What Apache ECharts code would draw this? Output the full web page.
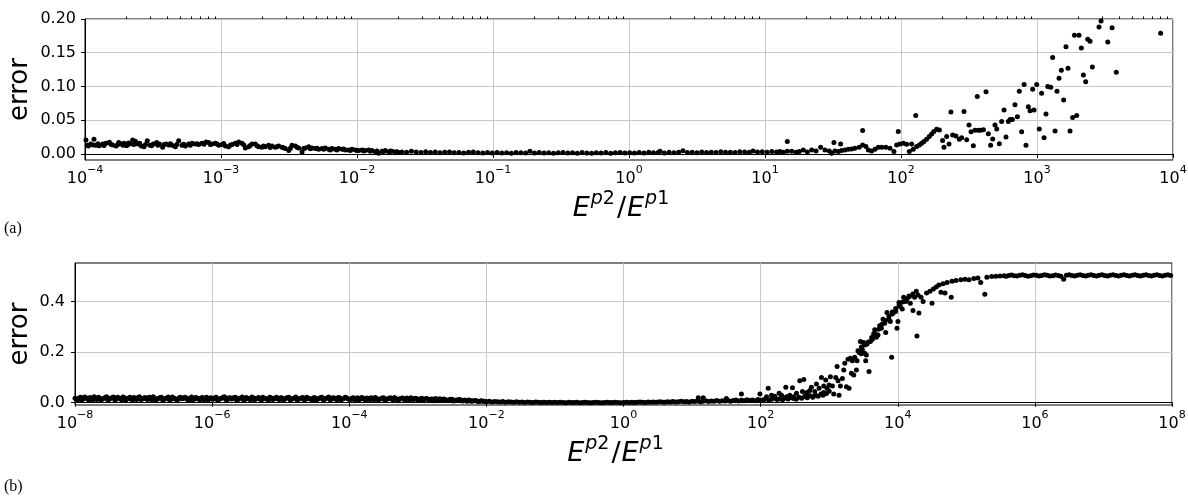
<!DOCTYPE html>
<html>
<head>
<meta charset="utf-8">
<script src="https://cdn.jsdelivr.net/npm/echarts@6/dist/echarts.min.js"></script>
<style>
html, body { margin: 0; padding: 0; background: #fff; }
#chart { width: 1188px; height: 499px; }
</style>
</head>
<body>
<div id="chart"></div>
<script>
// Each point is [log10(E^p2/E^p1), error].

// (a) low-ratio band, 1e-4 .. 2e-2
const aLowBand = [
  [-3.993,0.0207],[-3.983,0.0128],[-3.975,0.0118],[-3.958,0.0148],[-3.940,0.0133],[-3.934,0.0217],[-3.919,0.0128],[-3.905,0.0152],
  [-3.895,0.0123],[-3.870,0.0148],[-3.860,0.0125],[-3.846,0.0158],[-3.821,0.0173],[-3.810,0.0145],[-3.797,0.0133],[-3.772,0.0118],
  [-3.760,0.0135],[-3.752,0.0168],[-3.733,0.0148],[-3.720,0.0128],[-3.713,0.0158],[-3.694,0.0123],[-3.680,0.0162],[-3.669,0.0148],
  [-3.650,0.0207],[-3.640,0.0140],[-3.630,0.0188],[-3.610,0.0148],[-3.598,0.0160],[-3.586,0.0118],[-3.566,0.0108],[-3.555,0.0138],
  [-3.542,0.0197],[-3.522,0.0128],[-3.510,0.0120],[-3.498,0.0148],[-3.473,0.0168],[-3.465,0.0130],[-3.453,0.0148],[-3.429,0.0099],
  [-3.418,0.0138],[-3.404,0.0148],[-3.385,0.0133],[-3.372,0.0150],[-3.360,0.0128],[-3.336,0.0108],[-3.325,0.0140],[-3.311,0.0197],
  [-3.287,0.0128],[-3.275,0.0145],[-3.262,0.0118],[-3.238,0.0148],[-3.225,0.0128],[-3.213,0.0158],[-3.189,0.0148],[-3.176,0.0150],
  [-3.164,0.0138],[-3.140,0.0158],[-3.125,0.0145],[-3.110,0.0178],[-3.091,0.0168],[-3.078,0.0138],[-3.066,0.0148],[-3.042,0.0158],
  [-3.030,0.0148],[-3.017,0.0128],[-2.993,0.0138],[-2.980,0.0155],[-2.968,0.0118],[-2.944,0.0108],[-2.932,0.0128],[-2.919,0.0138],
  [-2.895,0.0158],[-2.882,0.0140],[-2.870,0.0178],[-2.846,0.0158],[-2.833,0.0135],[-2.821,0.0089],[-2.797,0.0108],[-2.785,0.0125],
  [-2.772,0.0148],[-2.748,0.0148],[-2.735,0.0120],[-2.723,0.0108],[-2.699,0.0099],[-2.688,0.0118],[-2.674,0.0108],[-2.650,0.0128],
  [-2.638,0.0095],[-2.625,0.0118],[-2.601,0.0099],[-2.590,0.0108],[-2.576,0.0118],[-2.551,0.0099],[-2.540,0.0092],[-2.527,0.0079],
  [-2.502,0.0049],[-2.490,0.0085],[-2.478,0.0128],[-2.453,0.0118],[-2.441,0.0098],[-2.429,0.0089],[-2.404,0.0030],[-2.392,0.0080],
  [-2.380,0.0089],[-2.355,0.0108],[-2.343,0.0075],[-2.331,0.0089],[-2.306,0.0079],[-2.294,0.0085],[-2.282,0.0069],[-2.257,0.0079],
  [-2.245,0.0070],[-2.233,0.0089],[-2.208,0.0069],[-2.196,0.0060],[-2.184,0.0079],[-2.159,0.0069],[-2.147,0.0058],[-2.135,0.0079],
  [-2.110,0.0069],[-2.098,0.0072],[-2.086,0.0059],[-2.061,0.0059],[-2.049,0.0052],[-2.037,0.0069],[-2.012,0.0059],[-2.000,0.0050],
  [-1.988,0.0049],[-1.963,0.0059],[-1.951,0.0045],[-1.939,0.0049],[-1.914,0.0059],[-1.902,0.0040],[-1.890,0.0049],[-1.865,0.0030],
  [-1.853,0.0042],[-1.841,0.0010],[-1.816,0.0039],[-1.804,0.0035],[-1.792,0.0049],[-1.767,0.0030],[-1.755,0.0045],[-1.743,0.0039],
  [-1.718,0.0030],[-1.706,0.0032],[-1.694,0.0020]
];

// (a) flat band, 2e-2 .. 1.2e1
const aMidBand = [
  [-1.670,0.0030],[-1.635,0.0025],[-1.600,0.0040],[-1.565,0.0028],[-1.530,0.0020],[-1.495,0.0032],[-1.460,0.0022],[-1.425,0.0028],
  [-1.390,0.0018],[-1.355,0.0025],[-1.320,0.0030],[-1.285,0.0018],[-1.250,0.0022],[-1.215,0.0015],[-1.180,0.0024],[-1.145,0.0030],
  [-1.110,0.0018],[-1.075,0.0012],[-1.040,0.0020],[-1.005,0.0015],[-0.970,0.0022],[-0.935,0.0012],[-0.900,0.0018],[-0.865,0.0010],
  [-0.830,0.0020],[-0.795,0.0016],[-0.760,0.0012],[-0.728,0.0040],[-0.695,0.0015],[-0.660,0.0020],[-0.625,0.0012],[-0.590,0.0018],
  [-0.555,0.0010],[-0.520,0.0016],[-0.485,0.0022],[-0.450,0.0012],[-0.415,0.0018],[-0.380,0.0010],[-0.345,0.0020],[-0.310,0.0014],
  [-0.275,0.0010],[-0.240,0.0018],[-0.205,0.0012],[-0.170,0.0020],[-0.135,0.0010],[-0.100,0.0016],[-0.065,0.0022],[-0.030,0.0012],
  [0.005,0.0018],[0.040,0.0014],[0.075,0.0022],[0.110,0.0012],[0.145,0.0026],[0.180,0.0018],[0.215,0.0022],[0.228,0.0040],
  [0.260,0.0015],[0.295,0.0024],[0.330,0.0018],[0.365,0.0026],[0.397,0.0048],[0.430,0.0020],[0.465,0.0026],[0.500,0.0018],
  [0.535,0.0030],[0.570,0.0022],[0.605,0.0026],[0.640,0.0020],[0.675,0.0032],[0.710,0.0024],[0.745,0.0026],[0.780,0.0020],
  [0.815,0.0032],[0.850,0.0028],[0.885,0.0024],[0.912,0.0042],[0.945,0.0028],[0.980,0.0034],[1.015,0.0026],[1.050,0.0036],
  [1.085,0.0030]
];

// (a) rising part, 1.3e1 .. 2.7e2
const aRise = [
  [1.110,0.0035],[1.135,0.0025],[1.164,0.0040],[1.164,0.0183],[1.196,0.0040],[1.228,0.0025],[1.252,0.0035],[1.282,0.0060],
  [1.311,0.0030],[1.343,0.0060],[1.375,0.0044],[1.409,0.0099],[1.441,0.0060],[1.473,0.0044],[1.490,0.0010],[1.507,0.0168],
  [1.514,0.0044],[1.539,0.0035],[1.556,0.0148],[1.563,0.0049],[1.588,0.0060],[1.612,0.0070],[1.637,0.0074],[1.661,0.0084],
  [1.693,0.0099],[1.718,0.0346],[1.718,0.0133],[1.742,0.0109],[1.760,0.0060],[1.784,0.0044],[1.809,0.0070],[1.833,0.0099],
  [1.858,0.0099],[1.889,0.0099],[1.919,0.0084],[1.948,0.0035],[1.968,0.0133],[1.980,0.0331],[1.992,0.0148],[2.017,0.0158],
  [2.041,0.0143],[2.061,0.0035],[2.078,0.0148],[2.090,0.0070],[2.108,0.0568],[2.115,0.0109],[2.135,0.0133],[2.152,0.0158],
  [2.169,0.0183],[2.188,0.0217],[2.208,0.0257],[2.225,0.0296],[2.242,0.0331],[2.262,0.0365],[2.282,0.0355],[2.306,0.0198],
  [2.316,0.0099],[2.336,0.0257],[2.353,0.0148],[2.367,0.0622],[2.380,0.0281],[2.404,0.0267],[2.429,0.0217]
];

// (a) scattered tail, 2.8e2 .. 8e3
const aTail = [
  [2.446,0.024],[2.463,0.063],[2.483,0.021],[2.500,0.043],[2.515,0.033],[2.532,0.012],[2.544,0.035],[2.561,0.085],
  [2.569,0.035],[2.586,0.035],[2.606,0.036],[2.625,0.092],[2.642,0.030],[2.659,0.013],[2.674,0.022],[2.691,0.043],
  [2.704,0.037],[2.723,0.015],[2.740,0.048],[2.758,0.065],[2.772,0.025],[2.789,0.048],[2.802,0.051],[2.819,0.051],
  [2.838,0.073],[2.856,0.055],[2.870,0.093],[2.887,0.033],[2.905,0.103],[2.919,0.013],[2.936,0.070],[2.949,0.064],
  [2.968,0.096],[2.978,0.065],[2.998,0.103],[3.017,0.037],[3.034,0.090],[3.052,0.024],[3.066,0.059],[3.079,0.100],
  [3.101,0.099],[3.115,0.143],[3.133,0.034],[3.147,0.093],[3.162,0.112],[3.179,0.124],[3.196,0.080],[3.213,0.159],
  [3.228,0.127],[3.243,0.034],[3.262,0.054],[3.275,0.176],[3.292,0.057],[3.309,0.176],[3.326,0.157],[3.341,0.117],
  [3.358,0.107],[3.373,0.170],[3.390,0.167],[3.407,0.129],[3.456,0.188],[3.471,0.197],[3.520,0.166],[3.552,0.187],
  [3.583,0.121],[3.909,0.179]
];

// (b) low-ratio band, 1e-8 .. 1e2
const bBand = [
  [-8.00,0.018],[-7.96,0.012],[-7.92,0.022],[-7.88,0.015],[-7.84,0.020],[-7.80,0.010],[-7.76,0.017],[-7.72,0.024],[-7.68,0.013],
  [-7.64,0.019],[-7.60,0.015],[-7.56,0.021],[-7.52,0.011],[-7.48,0.018],[-7.44,0.023],[-7.40,0.014],[-7.36,0.019],[-7.32,0.012],
  [-7.28,0.020],[-7.24,0.016],[-7.20,0.022],[-7.16,0.011],[-7.12,0.017],[-7.08,0.021],[-7.04,0.013],[-7.00,0.018],
  [-6.96,0.016],[-6.92,0.022],[-6.88,0.012],[-6.84,0.019],[-6.80,0.015],[-6.76,0.021],[-6.72,0.010],[-6.68,0.017],[-6.64,0.023],
  [-6.60,0.014],[-6.56,0.018],[-6.52,0.012],[-6.48,0.020],[-6.44,0.016],[-6.40,0.022],[-6.36,0.013],[-6.32,0.018],[-6.28,0.011],
  [-6.24,0.021],[-6.20,0.015],[-6.16,0.019],[-6.12,0.012],[-6.08,0.022],[-6.04,0.016],[-6.00,0.014],
  [-5.96,0.020],[-5.92,0.011],[-5.88,0.017],[-5.84,0.022],[-5.80,0.013],[-5.76,0.019],[-5.72,0.015],[-5.68,0.021],[-5.64,0.010],
  [-5.60,0.018],[-5.56,0.023],[-5.52,0.014],[-5.48,0.017],[-5.44,0.012],[-5.40,0.020],[-5.36,0.016],[-5.32,0.021],[-5.28,0.011],
  [-5.24,0.018],[-5.20,0.014],[-5.16,0.022],[-5.12,0.013],[-5.08,0.019],[-5.04,0.016],[-5.00,0.020],
  [-4.96,0.012],[-4.92,0.018],[-4.88,0.022],[-4.84,0.014],[-4.80,0.019],[-4.76,0.011],[-4.72,0.017],[-4.68,0.021],[-4.64,0.013],
  [-4.60,0.018],[-4.56,0.015],[-4.52,0.020],[-4.48,0.010],[-4.44,0.017],[-4.40,0.022],[-4.36,0.014],[-4.32,0.019],[-4.28,0.012],
  [-4.24,0.020],[-4.20,0.015],[-4.16,0.021],[-4.12,0.011],[-4.08,0.017],[-4.04,0.020],[-4.00,0.013],
  [-3.96,0.018],[-3.92,0.011],[-3.88,0.020],[-3.84,0.015],[-3.80,0.019],[-3.76,0.010],[-3.72,0.016],[-3.68,0.020],[-3.64,0.012],
  [-3.60,0.017],[-3.56,0.014],[-3.52,0.019],[-3.48,0.009],[-3.44,0.016],[-3.40,0.020],[-3.36,0.012],[-3.32,0.017],[-3.28,0.010],
  [-3.24,0.018],[-3.20,0.013],[-3.16,0.019],[-3.12,0.010],[-3.08,0.015],[-3.04,0.018],[-3.00,0.011],
  [-2.96,0.016],[-2.92,0.010],[-2.88,0.017],[-2.84,0.012],[-2.80,0.015],[-2.76,0.008],[-2.72,0.013],[-2.68,0.016],[-2.64,0.009],
  [-2.60,0.013],[-2.56,0.010],[-2.52,0.014],[-2.48,0.007],[-2.44,0.011],[-2.40,0.013],[-2.36,0.008],[-2.32,0.011],[-2.28,0.006],
  [-2.24,0.010],[-2.20,0.007],[-2.16,0.009],[-2.12,0.005],[-2.08,0.008],[-2.04,0.006],[-2.00,0.004],
  [-1.96,0.006],[-1.92,0.003],[-1.88,0.005],[-1.84,0.004],[-1.80,0.003],[-1.76,0.005],[-1.72,0.002],[-1.68,0.004],[-1.64,0.003],
  [-1.60,0.002],[-1.56,0.004],[-1.52,0.002],[-1.48,0.003],[-1.44,0.001],[-1.40,0.003],[-1.36,0.002],[-1.32,0.001],[-1.28,0.003],
  [-1.24,0.002],[-1.20,0.001],[-1.16,0.002],[-1.12,0.001],[-1.08,0.002],[-1.04,0.001],[-1.00,0.002],
  [-0.96,0.001],[-0.92,0.002],[-0.88,0.001],[-0.84,0.000],[-0.80,0.002],[-0.76,0.001],[-0.72,0.001],[-0.68,0.002],[-0.64,0.000],
  [-0.60,0.001],[-0.56,0.002],[-0.52,0.001],[-0.48,0.000],[-0.44,0.001],[-0.40,0.002],[-0.36,0.001],[-0.32,0.000],[-0.28,0.001],
  [-0.24,0.002],[-0.20,0.001],[-0.16,0.001],[-0.12,0.002],[-0.08,0.001],[-0.04,0.000],[0.00,0.001],
  [0.04,0.002],[0.08,0.001],[0.12,0.002],[0.16,0.001],[0.20,0.002],[0.24,0.003],[0.28,0.002],[0.32,0.001],[0.36,0.003],
  [0.40,0.002],[0.44,0.003],[0.48,0.002],[0.52,0.004],[0.56,0.003],[0.60,0.002],[0.64,0.004],[0.68,0.003],[0.72,0.005],
  [0.76,0.003],[0.80,0.004],[0.84,0.006],[0.88,0.004],[0.92,0.005],[0.96,0.003],[1.00,0.006],[1.04,0.005],[1.08,0.007],
  [1.12,0.004],[1.16,0.006],[1.20,0.008],[1.24,0.005],[1.28,0.007],[1.32,0.006],[1.36,0.009],[1.40,0.006],[1.44,0.008],
  [1.48,0.007],[1.52,0.010],[1.56,0.006],[1.60,0.009],[1.64,0.011],[1.68,0.007],[1.72,0.010],[1.76,0.008],[1.80,0.012],
  [1.84,0.009],[1.88,0.011],[1.92,0.008],[1.96,0.013],[2.00,0.010],
  [1.091,0.020],[1.164,0.020],[1.50,0.017],[1.72,0.034],[1.99,0.034]
];

// (b) second row of the same band, 1e-8 .. 1e-2
const bBandUpper = [
  [-7.98,0.014],[-7.94,0.019],[-7.90,0.011],[-7.86,0.023],[-7.82,0.016],[-7.78,0.021],[-7.74,0.012],[-7.70,0.018],[-7.66,0.022],
  [-7.62,0.011],[-7.58,0.017],[-7.54,0.024],[-7.50,0.014],[-7.46,0.020],[-7.42,0.012],[-7.38,0.022],[-7.34,0.016],[-7.30,0.023],
  [-7.26,0.011],[-7.22,0.018],[-7.18,0.014],[-7.14,0.021],[-7.10,0.013],[-7.06,0.024],[-7.02,0.015],
  [-6.98,0.021],[-6.94,0.013],[-6.90,0.019],[-6.86,0.024],[-6.82,0.011],[-6.78,0.017],[-6.74,0.022],[-6.70,0.014],[-6.66,0.019],
  [-6.62,0.011],[-6.58,0.023],[-6.54,0.016],[-6.50,0.013],[-6.46,0.022],[-6.42,0.017],[-6.38,0.020],[-6.34,0.011],[-6.30,0.023],
  [-6.26,0.015],[-6.22,0.019],[-6.18,0.012],[-6.14,0.021],[-6.10,0.016],[-6.06,0.011],[-6.02,0.020],
  [-5.98,0.015],[-5.94,0.022],[-5.90,0.013],[-5.86,0.018],[-5.82,0.024],[-5.78,0.012],[-5.74,0.020],[-5.70,0.016],[-5.66,0.022],
  [-5.62,0.013],[-5.58,0.019],[-5.54,0.011],[-5.50,0.021],[-5.46,0.015],[-5.42,0.023],[-5.38,0.012],[-5.34,0.018],[-5.30,0.014],
  [-5.26,0.022],[-5.22,0.017],[-5.18,0.011],[-5.14,0.020],[-5.10,0.015],[-5.06,0.022],[-5.02,0.012],
  [-4.98,0.019],[-4.94,0.015],[-4.90,0.021],[-4.86,0.011],[-4.82,0.017],[-4.78,0.023],[-4.74,0.014],[-4.70,0.019],[-4.66,0.012],
  [-4.62,0.022],[-4.58,0.016],[-4.54,0.011],[-4.50,0.020],[-4.46,0.015],[-4.42,0.021],[-4.38,0.012],[-4.34,0.018],[-4.30,0.023],
  [-4.26,0.014],[-4.22,0.019],[-4.18,0.012],[-4.14,0.020],[-4.10,0.015],[-4.06,0.022],[-4.02,0.016],
  [-3.98,0.013],[-3.94,0.020],[-3.90,0.015],[-3.86,0.011],[-3.82,0.021],[-3.78,0.014],[-3.74,0.019],[-3.70,0.012],[-3.66,0.018],
  [-3.62,0.021],[-3.58,0.011],[-3.54,0.016],[-3.50,0.020],[-3.46,0.013],[-3.42,0.018],[-3.38,0.015],[-3.34,0.021],[-3.30,0.012],
  [-3.26,0.016],[-3.22,0.019],[-3.18,0.011],[-3.14,0.016],[-3.10,0.020],[-3.06,0.013],[-3.02,0.017],
  [-2.98,0.012],[-2.94,0.018],[-2.90,0.013],[-2.86,0.016],[-2.82,0.010],[-2.78,0.014],[-2.74,0.017],[-2.70,0.011],[-2.66,0.013],
  [-2.62,0.015],[-2.58,0.009],[-2.54,0.012],[-2.50,0.014],[-2.46,0.009],[-2.42,0.010],[-2.38,0.012],[-2.34,0.007],[-2.30,0.009],
  [-2.26,0.011],[-2.22,0.006],[-2.18,0.008],[-2.14,0.007],[-2.10,0.005],[-2.06,0.007],[-2.02,0.005]
];

// (b) transition, 1e2 .. 2e4
const bRise = [
  [2.04,0.012],[2.08,0.015],[2.11,0.057],[2.12,0.011],[2.16,0.014],[2.20,0.018],[2.24,0.013],[2.28,0.016],[2.32,0.012],
  [2.36,0.019],[2.40,0.015],[2.44,0.021],[2.48,0.017],[2.52,0.014],[2.56,0.022],[2.60,0.018],[2.64,0.025],[2.68,0.020],
  [2.72,0.028],[2.76,0.022],[2.80,0.030],[2.84,0.026],[2.88,0.034],[2.92,0.040],[2.96,0.036],[3.00,0.045],
  [2.086,0.024],[2.159,0.030],[2.207,0.026],[2.270,0.037],[2.304,0.030],[2.367,0.061],[2.377,0.024],[2.426,0.030],
  [2.465,0.059],[2.484,0.024],[2.523,0.037],[2.571,0.087],[2.610,0.044],[2.630,0.092],[2.659,0.030],[2.678,0.040],
  [2.717,0.048],[2.741,0.061],[2.766,0.024],[2.790,0.044],[2.814,0.074],[2.853,0.057],[2.887,0.100],[2.911,0.030],
  [2.921,0.066],[2.950,0.090],[2.969,0.057],[2.999,0.070],[3.018,0.103],[3.047,0.066],[3.067,0.034],[3.096,0.100],
  [3.115,0.143],[3.130,0.087],[3.144,0.030],[3.164,0.066],[3.193,0.096],[3.212,0.129],[3.227,0.156],[3.251,0.063],
  [3.275,0.172],[3.290,0.057],[3.309,0.176],[3.324,0.116],[3.338,0.166],[3.358,0.110],[3.372,0.180],[3.397,0.129],
  [3.406,0.166],[3.436,0.198],[3.455,0.242],[3.469,0.193],[3.484,0.209],[3.503,0.238],[3.518,0.195],[3.533,0.166],
  [3.542,0.189],[3.552,0.232],[3.581,0.123],[3.601,0.242],[3.630,0.251],[3.649,0.272],[3.664,0.288],[3.688,0.259],
  [3.712,0.268],[3.736,0.304],[3.761,0.294],[3.785,0.330],[3.809,0.314],[3.824,0.277],[3.843,0.356],[3.872,0.330],
  [3.892,0.321],[3.911,0.180],[3.921,0.351],[3.940,0.356],[3.969,0.360],[3.989,0.294],[4.003,0.321],[4.018,0.396],
  [4.037,0.380],[4.066,0.370],[4.086,0.417],[4.115,0.400],[4.134,0.409],[4.164,0.422],[4.183,0.393],[4.222,0.364],
  [4.246,0.417],[4.280,0.264],[4.295,0.426],[4.309,0.354],
  [3.42,0.205],[3.47,0.220],[3.52,0.228],[3.57,0.240],[3.62,0.258],[3.67,0.272],[3.72,0.290],[3.77,0.310],[3.82,0.325],
  [3.87,0.342],[3.92,0.358],[3.97,0.372],[4.02,0.386],[4.07,0.398],[4.12,0.410],[4.17,0.420],[4.22,0.430],[4.27,0.440]
];

// (b) saturation, 2e4 .. 1e8
const bPlateau = [
  [4.34,0.417],[4.37,0.400],[4.42,0.433],[4.47,0.440],[4.50,0.393],[4.52,0.449],[4.56,0.457],[4.60,0.465],[4.63,0.436],
  [4.66,0.470],[4.69,0.433],[4.72,0.475],[4.78,0.417],[4.79,0.480],[4.85,0.483],[4.92,0.486],[4.98,0.488],[5.04,0.486],
  [5.11,0.491],[5.17,0.493],[5.21,0.475],[5.27,0.429],[5.30,0.496],[5.37,0.499],[5.43,0.500],[5.49,0.501],
  [5.55,0.502],[5.58,0.500],[5.62,0.503],[5.66,0.505],[5.70,0.502],[5.74,0.501],[5.78,0.504],[5.82,0.506],[5.86,0.503],
  [5.90,0.500],[5.94,0.502],[5.98,0.505],[6.02,0.504],[6.06,0.501],[6.10,0.503],[6.14,0.506],[6.18,0.504],[6.22,0.501],
  [6.26,0.502],[6.30,0.505],[6.34,0.503],[6.38,0.500],[6.42,0.488],[6.46,0.504],[6.50,0.506],[6.54,0.503],[6.58,0.501],
  [6.62,0.504],[6.66,0.506],[6.70,0.503],[6.74,0.501],[6.78,0.504],[6.82,0.506],[6.86,0.503],[6.90,0.501],[6.94,0.504],
  [6.98,0.506],[7.02,0.503],[7.06,0.501],[7.10,0.504],[7.14,0.506],[7.18,0.503],[7.22,0.501],[7.26,0.504],[7.30,0.506],
  [7.34,0.503],[7.38,0.501],[7.42,0.504],[7.46,0.506],[7.50,0.503],[7.54,0.501],[7.58,0.504],[7.62,0.506],[7.66,0.503],
  [7.70,0.501],[7.74,0.504],[7.78,0.506],[7.82,0.503],[7.86,0.501],[7.90,0.504],[7.94,0.506],[7.98,0.503]
];

// Axis ticks
const aMajorTicks = [1e-4, 1e-3, 1e-2, 1e-1, 1e0, 1e1, 1e2, 1e3, 1e4];
const bMajorTicks = [1e-8, 1e-6, 1e-4, 1e-2, 1e0, 1e2, 1e4, 1e6, 1e8];
const aErrorTicks = [0, 0.05, 0.10, 0.15, 0.20];
const bErrorTicks = [0, 0.2, 0.4];

const aMinorTicks = [];
for (let d = -4; d < 4; d++) {
  for (let m = 2; m <= 9; m++) aMinorTicks.push(m * Math.pow(10, d));
}

const FONT = 'DejaVu Sans';
const toPoints = arr => arr.map(p => [Math.pow(10, p[0]), p[1]]);

function powLabel(v) {
  const e = Math.round(Math.log10(v));
  return '{b|10}{s|' + (e < 0 ? '\u2212' + (-e) : String(e)) + '}';
}
const tickRich = {
  b: { fontFamily: FONT, fontSize: 16, color: '#000', lineHeight: 22, verticalAlign: 'bottom' },
  s: { fontFamily: FONT, fontSize: 11, color: '#000', lineHeight: 12, verticalAlign: 'top' }
};
const nameRich = {
  i: { fontFamily: FONT, fontStyle: 'italic', fontSize: 27, color: '#000', lineHeight: 32, verticalAlign: 'bottom' },
  n: { fontFamily: FONT, fontSize: 27, color: '#000', lineHeight: 32, verticalAlign: 'bottom', padding: [0, 1, 0, 2] },
  si: { fontFamily: FONT, fontStyle: 'italic', fontSize: 19, color: '#000', lineHeight: 18, verticalAlign: 'top', padding: [0, 0, 0, 1] },
  s: { fontFamily: FONT, fontSize: 19, color: '#000', lineHeight: 18, verticalAlign: 'top' }
};
const ratioName = '{i|E}{si|p}{s|2}{n|/}{i|E}{si|p}{s|1}';

function logAxis(grid, lo, hi, majors, gap) {
  return {
    type: 'log', logBase: 10, gridIndex: grid, min: lo, max: hi,
    axisLine: { show: true, lineStyle: { color: '#000', width: 1 } },
    axisTick: { show: true, length: 4, lineStyle: { color: '#000', width: 1 }, customValues: majors },
    axisLabel: { customValues: majors, formatter: powLabel, rich: tickRich, margin: 5 },
    splitLine: { show: true, lineStyle: { color: '#c8c8c8', width: 1 } },
    name: ratioName, nameLocation: 'middle', nameGap: gap, nameMoveOverlap: false,
    nameTextStyle: { rich: nameRich, padding: [0, 16, 0, 0] }
  };
}
function errAxis(grid, lo, hi, ticks, digits, gap, margin) {
  return {
    type: 'value', gridIndex: grid, min: lo, max: hi,
    axisLine: { show: true, lineStyle: { color: '#000', width: 1 } },
    axisTick: { show: true, length: 4, lineStyle: { color: '#000', width: 1 }, customValues: ticks },
    axisLabel: { customValues: ticks, formatter: v => v.toFixed(digits), fontFamily: FONT, fontSize: 16, color: '#000', margin: margin },
    splitLine: { show: true, lineStyle: { color: '#c8c8c8', width: 1 } },
    name: 'error', nameLocation: 'middle', nameRotate: 90, nameGap: gap, nameMoveOverlap: false,
    nameTextStyle: { fontFamily: FONT, fontSize: 26, color: '#000' }
  };
}

const chart = echarts.init(document.getElementById('chart'), null, { renderer: 'canvas' });
chart.setOption({
  animation: false,
  backgroundColor: '#fff',
  grid: [
    { left: 85, top: 19, width: 1088, height: 141, outerBoundsMode: 'none', containLabel: false,
      show: true, borderColor: '#000', borderWidth: 1, backgroundColor: 'transparent' },
    { left: 75, top: 263, width: 1097, height: 142, outerBoundsMode: 'none', containLabel: false,
      show: true, borderColor: '#000', borderWidth: 1, backgroundColor: 'transparent' }
  ],
  xAxis: [
    logAxis(0, 1e-4, 1e4, aMajorTicks, 30),
    logAxis(1, 1e-8, 1e8, bMajorTicks, 30),
    {
      type: 'log', logBase: 10, gridIndex: 0, min: 1e-4, max: 1e4,
      axisLine: { show: false }, axisLabel: { show: false }, splitLine: { show: false },
      axisTick: { show: true, length: 2.5, lineStyle: { color: '#000', width: 1 }, customValues: aMinorTicks }
    }
  ],
  yAxis: [
    errAxis(0, -0.009, 0.2, aErrorTicks, 2, 52, 9),
    errAxis(1, -0.009, 0.552, bErrorTicks, 1, 42, 10)
  ],
  series: [
    {
      type: 'scatter', xAxisIndex: 0, yAxisIndex: 0, symbol: 'circle', symbolSize: 5,
      itemStyle: { color: '#000', opacity: 1 }, clip: true,
      data: toPoints([].concat(aLowBand, aMidBand, aRise, aTail))
    },
    {
      type: 'scatter', xAxisIndex: 1, yAxisIndex: 1, symbol: 'circle', symbolSize: 5,
      itemStyle: { color: '#000', opacity: 1 }, clip: true,
      data: toPoints([].concat(bBand, bBandUpper, bRise, bPlateau))
    }
  ],
  graphic: [
    { type: 'text', left: 4, top: 221, style: { text: '(a)', font: '16px "Liberation Serif"', fill: '#000' } },
    { type: 'text', left: 4, top: 479, style: { text: '(b)', font: '16px "Liberation Serif"', fill: '#000' } }
  ]
});
</script>
</body>
</html>
